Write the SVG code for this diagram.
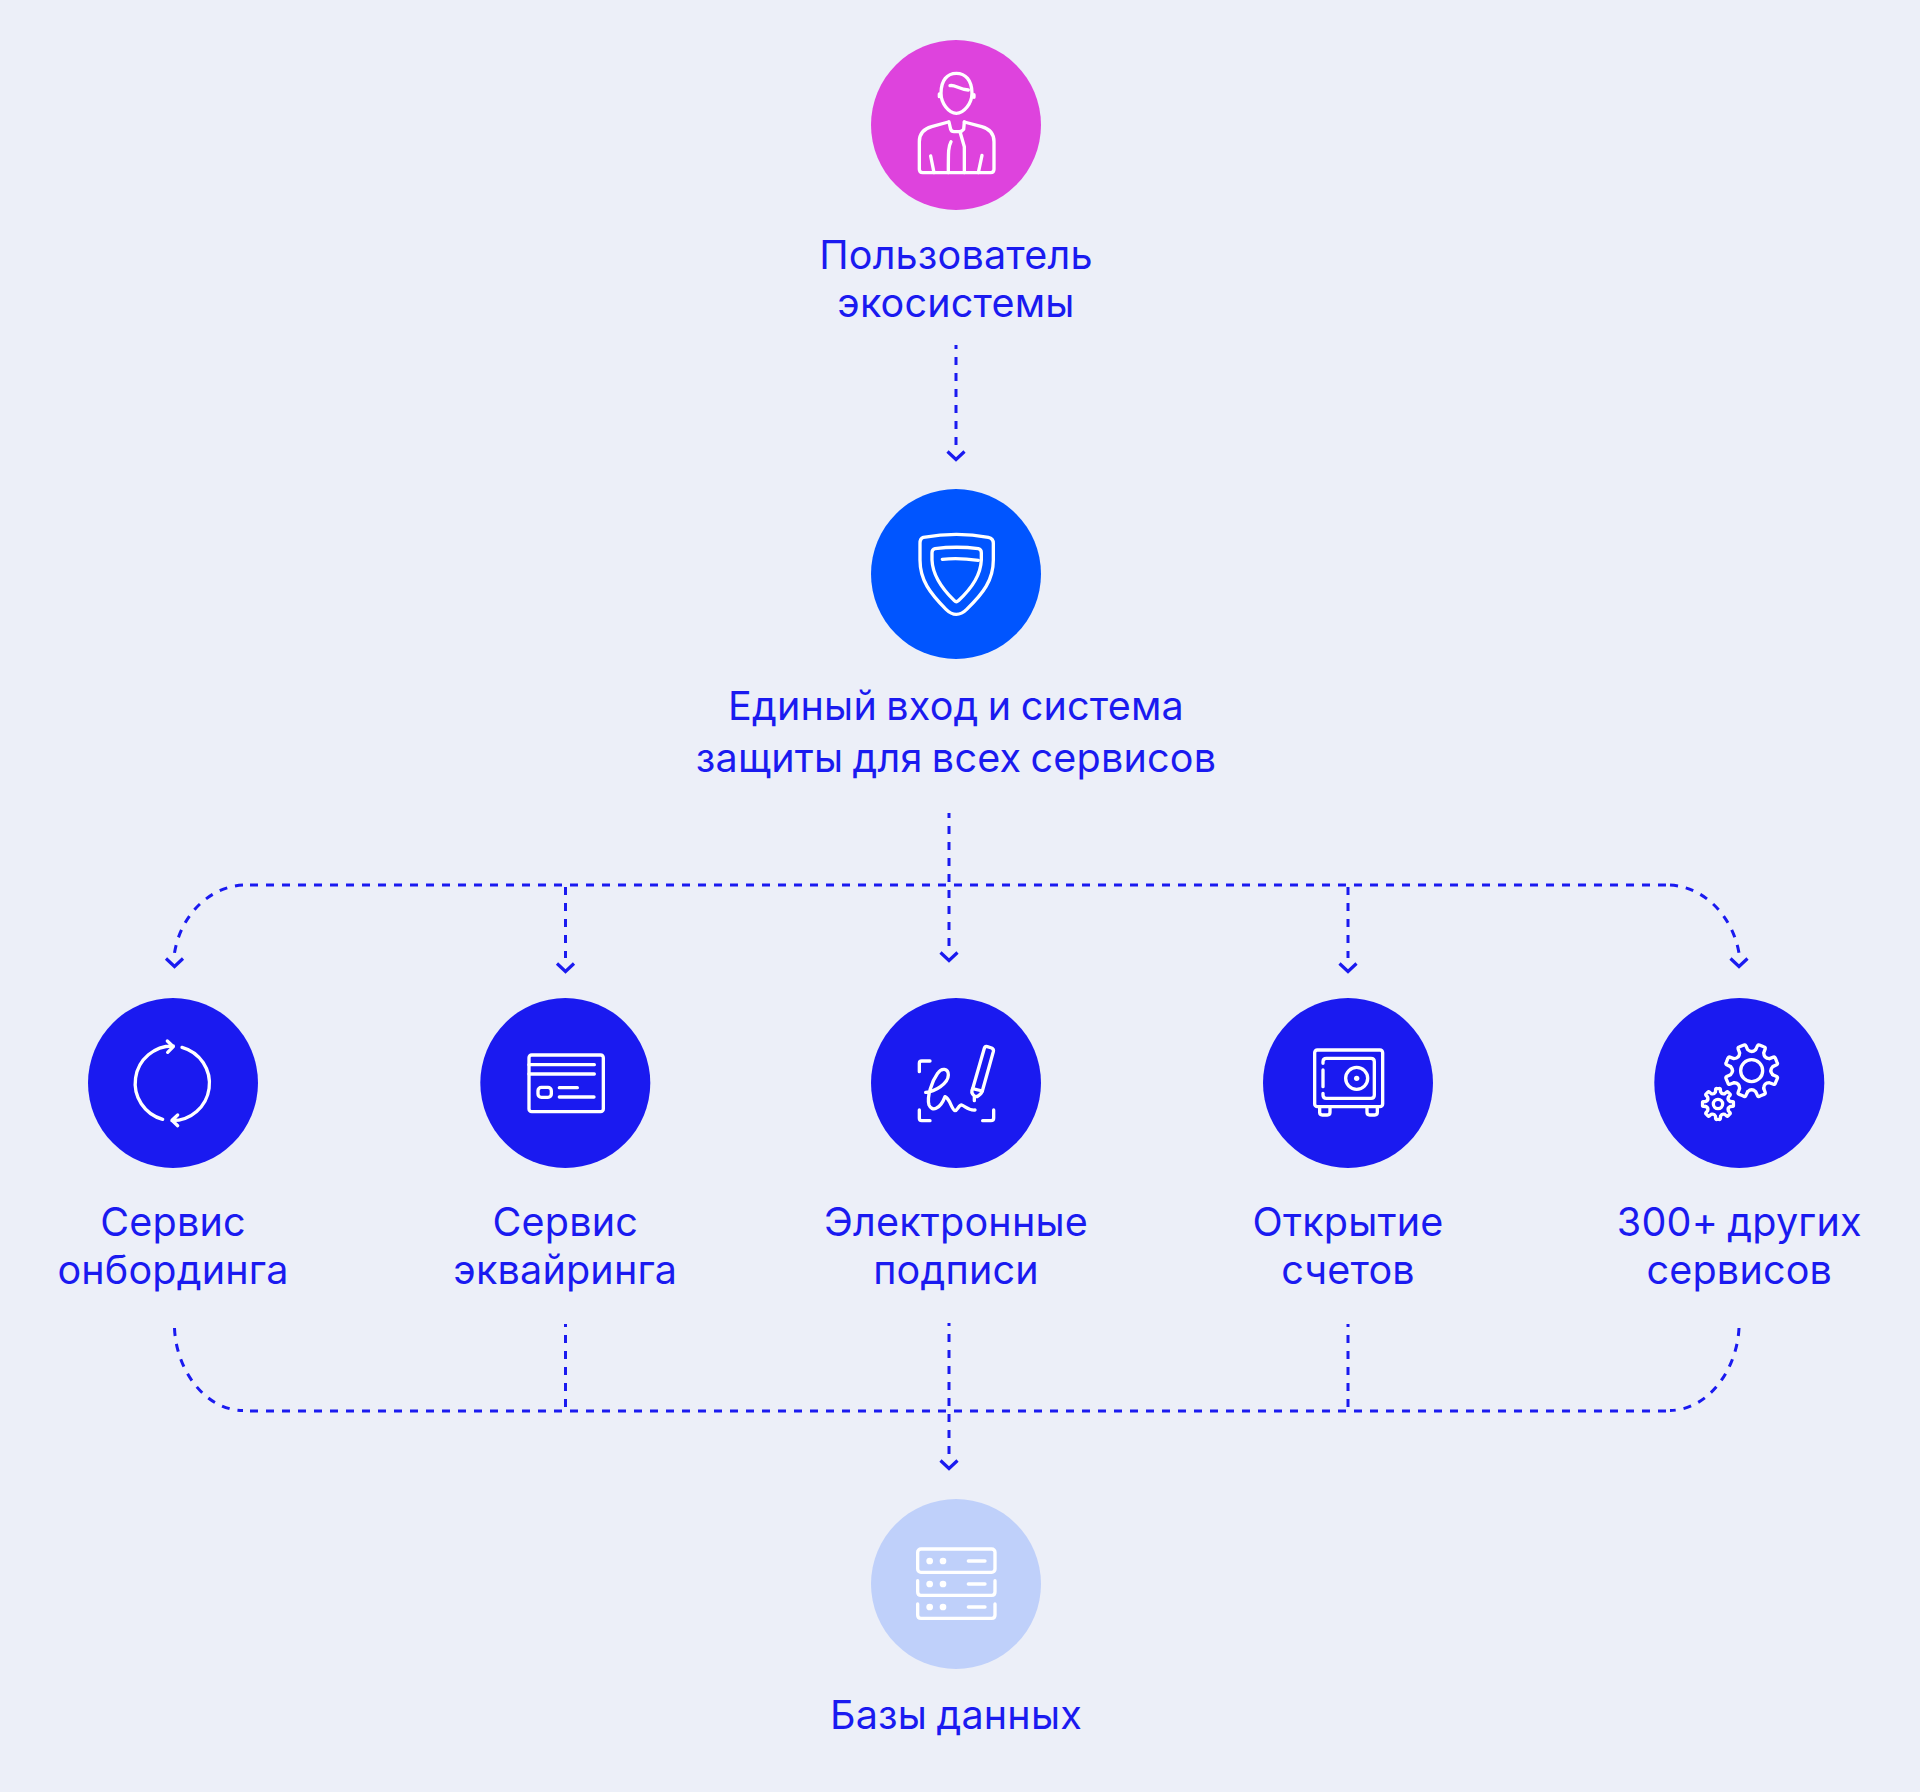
<svg xmlns="http://www.w3.org/2000/svg" xmlns:xlink="http://www.w3.org/1999/xlink" width="1920" height="1792" viewBox="0 0 1920 1792">
<style>
.t{font-family:"Inter","Liberation Sans",sans-serif;font-size:39.5px;font-weight:400;letter-spacing:.2px;word-spacing:-2px;fill:#1a1af0;text-anchor:middle}
.c{fill:none;stroke:#1a1af0;stroke-width:3;stroke-dasharray:8 8}
.ic{fill:none;stroke:#fff;stroke-width:10;stroke-linecap:round;stroke-linejoin:round}
.dot{fill:#fff;stroke:none}
.head{marker-end:url(#chev)}
</style>
<defs>
<marker id="chev" markerUnits="userSpaceOnUse" viewBox="-12 0 24 18" refX="0" refY="0" markerWidth="24" markerHeight="18" orient="0" overflow="visible">
<path d="M-8.5 5.5L0 13.5L8.5 5.5" fill="none" stroke="#1a1af0" stroke-width="3.2"/>
</marker>
<path id="gs" d="M-13 -63L-12.5 -76Q-12 -81 -6 -80L6 -80Q12 -81 12.5 -76L13 -63Q20 -48 34.9 -53.7"/>
</defs>
<rect width="1920" height="1792" fill="#eceff8"/>
<g id="connectors">
<path class="c head" d="M956 345V446" stroke-dashoffset="4"/>
<path class="c head" d="M949 813V947" stroke-dashoffset="3"/>
<path class="c" d="M250 885H1668"/>
<path class="c head" d="M243 885C207 887 180 918 174.5 953"/>
<path class="c head" d="M1670 885C1706 887 1733 918 1739 953"/>
<path class="c head" d="M565.5 887V958"/>
<path class="c head" d="M1348 887V958"/>
<path class="c" d="M174.5 1328C176 1370 205 1410 243 1410.5"/>
<path class="c" d="M1739 1328C1737 1370 1708 1410 1670 1410.5"/>
<path class="c" d="M250 1411H1668"/>
<path class="c" d="M565.5 1324V1410" stroke-dashoffset="5"/>
<path class="c" d="M1348 1324V1410" stroke-dashoffset="5"/>
<path class="c head" d="M949 1323V1455" stroke-dashoffset="5"/>
</g>
<g id="node-user">
<circle cx="956" cy="125" r="85" fill="#de43dd"/>
<g class="ic" transform="translate(860 30) scale(.33333)">
<path d="M243 190C243 150 262 130 289 130C316 130 336 150 336 190C336 220 312 250 289 250C266 250 243 220 243 190Z"/>
<path d="M270 167C285 163 295 178 325 180M238 192V200M342 194V202"/>
<path d="M265 276L215 290C190 297 178 310 178 335V418Q178 428 188 428H392Q402 428 402 418V335C402 310 390 297 365 290L313 276"/>
<path d="M267 276L272 298Q274 305 282 305H298Q306 305 311 298L313 276M300 305L313 350V428M273 335C265 350 265 360 265 428M212 378L222 428M366 376L355 428"/>
</g>
<text class="t" x="956" y="269">Пользователь</text>
<text class="t" x="956" y="317">экосистемы</text>
</g>
<g id="node-sso">
<circle cx="956" cy="574" r="85" fill="#0055ff"/>
<g class="ic" transform="translate(860 480) scale(.33333)">
<path d="M190 172C260 160 320 160 385 172Q400 175 400 190V240C400 300 370 340 320 388C300 408 278 408 258 388C210 340 180 300 180 240V190Q180 175 190 172Z"/>
<path d="M225 206C270 200 310 200 355 206Q364 208 364 218V240C362 290 330 330 295 362Q289 368 283 362C250 330 218 290 216 240V218Q216 208 225 206Z"/>
<path d="M247 238C280 234 320 236 355 241"/>
</g>
<text class="t" x="956" y="720">Единый вход и система</text>
<text class="t" x="956" y="772">защиты для всех сервисов</text>
</g>
<g id="node-onboarding">
<circle cx="173" cy="1083" r="85" fill="#1a1af0"/>
<g class="ic" transform="translate(80 990) scale(.33333)">
<path d="M248 388A112 112 0 0 1 280 168M262 153L280 170L263 187M306 172A112 112 0 0 1 276 392M293 375L276 391L293 407"/>
</g>
<text class="t" x="173" y="1236">Сервис</text>
<text class="t" x="173" y="1284">онбординга</text>
</g>
<g id="node-acquiring">
<circle cx="565.3" cy="1083" r="85" fill="#1a1af0"/>
<g class="ic" transform="translate(470 990) scale(.33333)">
<rect x="177" y="195" width="223" height="170" rx="8"/>
<path d="M177 224H373M177 252H373M268 293H322M268 321H372"/>
<rect x="204" y="292" width="40" height="30" rx="10"/>
</g>
<text class="t" x="565.3" y="1236">Сервис</text>
<text class="t" x="565.3" y="1284">эквайринга</text>
</g>
<g id="node-signature">
<circle cx="956" cy="1083" r="85" fill="#1a1af0"/>
<g class="ic" transform="translate(865 990) scale(.33333)">
<path d="M195 213H170Q163 213 163 220V245M163 360V385Q163 392 170 392H195M353 392H378Q386 392 386 385V360"/>
<path d="M358 175Q360 168 367 170L380 174Q387 177 385 185L352 303L323 296Z"/>
<path d="M323 296Q316 308 328 318L336 320Q348 314 352 303M328 320V332"/>
<path d="M182 307C210 305 250 280 250 255C250 235 230 232 218 250C200 275 185 320 192 345C200 365 225 360 240 320C255 325 260 360 270 362C278 362 280 345 290 345C300 348 310 362 330 360"/>
</g>
<text class="t" x="956" y="1236">Электронные</text>
<text class="t" x="956" y="1284">подписи</text>
</g>
<g id="node-accounts">
<circle cx="1348" cy="1083" r="85" fill="#1a1af0"/>
<g class="ic" transform="translate(1255 990) scale(.33333)">
<rect x="179" y="180" width="204" height="170" rx="8"/>
<path d="M204 220V215Q204 205 214 205H348Q358 205 358 215V315Q358 325 348 325H214Q204 325 204 315V310M204 240V290"/>
<circle cx="305" cy="265" r="33"/>
<circle class="dot" cx="305" cy="265" r="8"/>
<path d="M194 350V367Q194 375 202 375H217Q225 375 225 367V350M336 350V367Q336 375 344 375H359Q367 375 367 367V350"/>
</g>
<text class="t" x="1348" y="1236">Открытие</text>
<text class="t" x="1348" y="1284">счетов</text>
</g>
<g id="node-other">
<circle cx="1739.3" cy="1083" r="85" fill="#1a1af0"/>
<g class="ic" transform="translate(1645 990) scale(.33333)">
<circle cx="320" cy="242" r="33"/>
<g transform="translate(320 242)">
<use xlink:href="#gs" href="#gs" transform="rotate(22.5)"/>
<use xlink:href="#gs" href="#gs" transform="rotate(67.5)"/>
<use xlink:href="#gs" href="#gs" transform="rotate(112.5)"/>
<use xlink:href="#gs" href="#gs" transform="rotate(157.5)"/>
<use xlink:href="#gs" href="#gs" transform="rotate(202.5)"/>
<use xlink:href="#gs" href="#gs" transform="rotate(247.5)"/>
<use xlink:href="#gs" href="#gs" transform="rotate(292.5)"/>
<use xlink:href="#gs" href="#gs" transform="rotate(337.5)"/>
</g>
<circle cx="219" cy="342" r="14"/>
<g transform="translate(219 342) scale(.58)" style="stroke-width:17">
<use xlink:href="#gs" href="#gs" transform="rotate(0)"/>
<use xlink:href="#gs" href="#gs" transform="rotate(45)"/>
<use xlink:href="#gs" href="#gs" transform="rotate(90)"/>
<use xlink:href="#gs" href="#gs" transform="rotate(135)"/>
<use xlink:href="#gs" href="#gs" transform="rotate(180)"/>
<use xlink:href="#gs" href="#gs" transform="rotate(225)"/>
<use xlink:href="#gs" href="#gs" transform="rotate(270)"/>
<use xlink:href="#gs" href="#gs" transform="rotate(315)"/>
</g>
</g>
<text class="t" x="1739.3" y="1236">300+ других</text>
<text class="t" x="1739.3" y="1284">сервисов</text>
</g>
<g id="node-db">
<circle cx="956" cy="1584" r="85" fill="#bfd0fa"/>
<g class="ic" transform="translate(865 1490) scale(.33333)">
<rect x="158" y="177" width="232" height="70" rx="10"/>
<path d="M310 213H360M310 282H360M310 351H360M158 272V305Q158 316 168 316H380Q390 316 390 305V272M158 342V375Q158 385 168 385H380Q390 385 390 375V342"/>
<g class="dot"><circle cx="194" cy="213" r="10"/><circle cx="234" cy="213" r="10"/><circle cx="194" cy="282" r="10"/><circle cx="234" cy="282" r="10"/><circle cx="194" cy="351" r="10"/><circle cx="234" cy="351" r="10"/></g>
</g>
<text class="t" x="956" y="1729">Базы данных</text>
</g>
</svg>
